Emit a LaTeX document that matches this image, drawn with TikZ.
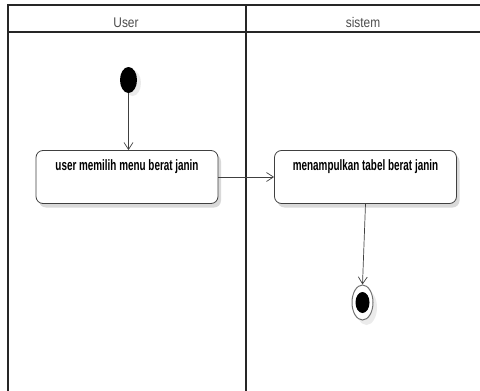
\documentclass[tikz,border=0pt]{standalone}
\usepackage{fontspec}
\setmainfont{Liberation Sans}
\usetikzlibrary{arrows.meta,shapes.geometric,shadows}
\begin{document}
\begin{tikzpicture}[x=1pt,y=-1pt,
  lane/.style={line width=1.3pt,draw=black!85},
  actbox/.style={draw=black!75,line width=0.8pt,rounded corners=7pt,fill=white,
    minimum width=182pt,minimum height=53pt,inner sep=0pt,
    drop shadow={shadow xshift=3pt,shadow yshift=-4pt,fill=black!15,opacity=1}},
  acttext/.style={font=\bfseries\fontsize{15}{17}\selectfont,inner sep=0pt,anchor=base},
  flow/.style={draw=black!75,line width=0.7pt,-{Straight Barb[length=7pt,width=9pt]}},
  head/.style={font=\fontsize{14}{16}\selectfont,text=black!70,inner sep=0pt,anchor=base}]
\useasboundingbox (0,0) rectangle (480,391);
% swimlane frame
\draw[lane] (8,391) -- (8,5) -- (482,5);
\draw[lane] (8,32) -- (482,32);
\draw[lane] (246,5) -- (246,391);
\node[head] (hu) at (126,27) {\scalebox{0.85}[1]{User}};
\node[head] (hs) at (363,27) {\scalebox{0.85}[1]{sistem}};
% start
\node[ellipse,fill=black,minimum width=17pt,minimum height=26pt,inner sep=0pt,
  drop shadow={shadow xshift=4pt,shadow yshift=-3pt,fill=black!8,opacity=1}] (start) at (128.5,80) {};
% actions
\node[actbox] (a1) at (127,177) {};
\node[acttext] (t1) at ([yshift=-20pt]a1.north) {\scalebox{0.66}[1]{user memilih menu berat janin}};
\node[actbox] (a2) at (365.5,177) {};
\node[acttext] (t2) at ([yshift=-20pt]a2.north) {\scalebox{0.66}[1]{menampulkan tabel berat janin}};
% end
\node[ellipse,draw=black!55,line width=1pt,fill=white,minimum width=21pt,minimum height=35pt,inner sep=0pt,
  drop shadow={shadow xshift=4pt,shadow yshift=-5pt,fill=black!8,opacity=1}] (end) at (362.5,302.5) {};
\node[ellipse,fill=black,minimum width=14pt,minimum height=21pt,inner sep=0pt] (endin) at (end.center) {};
% flows
\draw[flow] (start.south) -- (a1.north -| start.south);
\draw[flow] (a1.east) -- (a2.west);
\draw[flow] (a2.south) -- (end.north);
\end{tikzpicture}
\end{document}
